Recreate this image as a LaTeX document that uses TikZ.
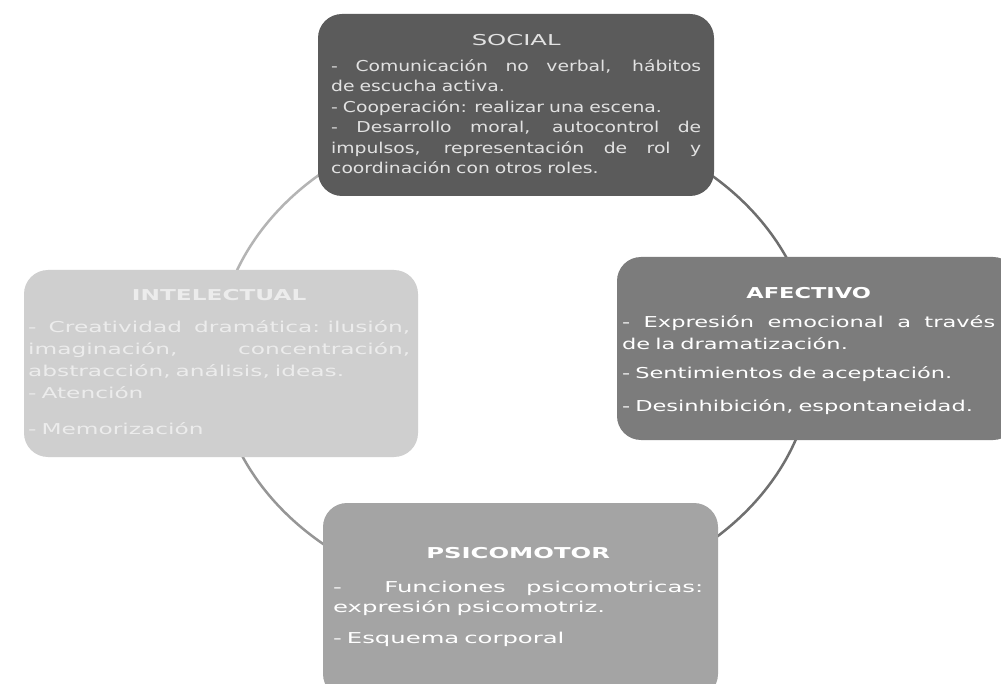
\documentclass[tikz,border=0pt]{standalone}
\usepackage{fontspec}
\newfontfamily\bodyfont[FakeStretch=1.25]{DejaVu Sans}
\newfontfamily\widefont[FakeStretch=1.5]{DejaVu Sans}
\newfontfamily\intelfont[FakeStretch=1.55]{DejaVu Sans}
\newfontfamily\widerfont[FakeStretch=1.62]{DejaVu Sans}
% one line of a panel: justified, left aligned or centred
\newcommand\lineJ[1]{\makebox[\linewidth][s]{\spaceskip=.3em plus 1fill\relax #1}\par}
\newcommand\lineL[1]{\makebox[\linewidth][l]{#1}\par}
\newcommand\lineC[1]{\makebox[\linewidth][c]{#1}\par}
\begin{document}
\begin{tikzpicture}[x=1pt,y=-1pt,
  panel/.style={rounded corners=24pt, draw=none, inner sep=0pt},
  body/.style={inner sep=0pt, anchor=north west, text=white},
  ring/.style={line width=2.5pt}]
\useasboundingbox[fill=white] (0,0) rectangle (1001,684);

% the ring that links the four areas, drawn under the panels
\coordinate (c) at (515,358);
\draw[ring, color={rgb,255:red,110;green,110;blue,110}]
  ([shift={(0:298pt and 243pt)}]c) arc[start angle=0, end angle=90, x radius=298pt, y radius=243pt];
\draw[ring, color={rgb,255:red,180;green,180;blue,180}]
  ([shift={(90:298pt and 243pt)}]c) arc[start angle=90, end angle=180, x radius=298pt, y radius=243pt];
\draw[ring, color={rgb,255:red,150;green,150;blue,150}]
  ([shift={(180:298pt and 243pt)}]c) arc[start angle=180, end angle=270, x radius=298pt, y radius=243pt];
\draw[ring, color={rgb,255:red,112;green,112;blue,112}]
  ([shift={(270:298pt and 243pt)}]c) arc[start angle=270, end angle=360, x radius=298pt, y radius=243pt];

% panels
\node[panel, fill={rgb,255:red,91;green,91;blue,91}, minimum width=396pt, minimum height=182pt] (social) at (516,105) {};
\node[panel, fill={rgb,255:red,207;green,207;blue,207}, minimum width=394pt, minimum height=187pt] (intel) at (221,363.5) {};
\node[panel, fill={rgb,255:red,124;green,124;blue,124}, minimum width=400pt, minimum height=183pt] (afect) at (817,348.5) {};
\node[panel, fill={rgb,255:red,164;green,164;blue,164}, minimum width=395pt, minimum height=195pt] (psico) at (520.5,600.5) {};

% texts
\node[body, text width=370pt, text={rgb,255:red,226;green,226;blue,226},
  font={\bodyfont\fontsize{15}{20.5}\selectfont\parindent=0pt}] (socialtxt) at (331,34.5) {%
  \lineC{\widerfont SOCIAL}\vspace{5pt}
  \lineJ{- Comunicación no verbal, hábitos}
  \lineL{de escucha activa.}
  \lineL{- Cooperación: realizar una escena.}
  \lineJ{- Desarrollo moral, autocontrol de}
  \lineJ{impulsos, representación de rol y}
  \lineL{coordinación con otros roles.}};

\node[body, text width=373pt,
  font={\widefont\fontsize{15}{22}\selectfont\parindent=0pt}] (afecttxt) at (622,287.5) {%
  \lineC{\bfseries AFECTIVO}\vspace{7pt}
  \lineJ{- Expresión emocional a través}
  \lineL{de la dramatización.}\vspace{7pt}
  \lineL{- Sentimientos de aceptación.}\vspace{11pt}
  \lineL{- Desinhibición, espontaneidad.}};

\node[body, text width=382pt, text={rgb,255:red,236;green,236;blue,236},
  font={\intelfont\fontsize{15}{22}\selectfont\parindent=0pt}] (inteltxt) at (28,289.5) {%
  \lineC{\bfseries INTELECTUAL}\vspace{10pt}
  \lineJ{- Creatividad dramática: ilusión,}
  \lineJ{imaginación, \hfill concentración,}
  \lineL{abstracción, análisis, ideas.}
  \lineL{- Atención}\vspace{14pt}
  \lineL{- Memorización}};

\node[body, text width=370pt,
  font={\widerfont\fontsize{15}{20.5}\selectfont\parindent=0pt}] (psicotxt) at (333,547.5) {%
  \lineC{\bfseries PSICOMOTOR}\vspace{13pt}
  \lineJ{- \hspace{2em}Funciones \hfill psicomotricas:}
  \lineL{expresión psicomotriz.}\vspace{10pt}
  \lineL{- Esquema corporal}};
\end{tikzpicture}
\end{document}
